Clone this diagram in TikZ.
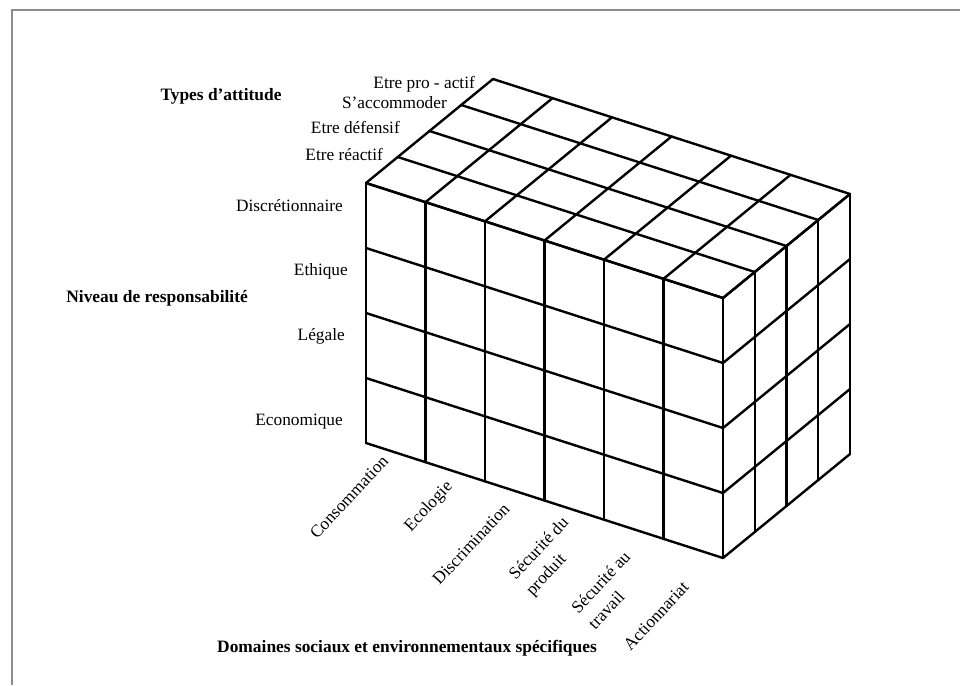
\documentclass[tikz,border=0pt]{standalone}
\usepackage{fontspec}
\setmainfont{Liberation Serif}
\begin{document}
\begin{tikzpicture}[x=1pt,y=-1pt,
  grid/.style={line width=2.4pt, black, line cap=round},
  lab/.style={font=\fontsize{17.3}{22}\selectfont, inner sep=0pt, text height=11.5pt, text depth=3.5pt},
  blab/.style={lab, font=\fontsize{17.4}{22}\selectfont\bfseries},
  dom/.style={font=\fontsize{17.3}{23}\selectfont, inner sep=0pt, rotate=47, align=left}]
\useasboundingbox (0,0) rectangle (960,685);
\draw[line width=2pt, black!45] (12,685) -- (12,10.5) -- (960,10.5);
% front face
\foreach \i in {0,...,6}
  \draw[grid] ({366+\i*59.5},{183+\i*19.1667}) -- ++(0,260);
\foreach \j in {0,...,4}
  \draw[grid] (366,{183+\j*65}) -- ++(357,115);
% top face
\foreach \i in {0,...,6}
  \draw[grid] ({366+\i*59.5},{183+\i*19.1667}) -- ++(127,-104);
\foreach \k in {0,...,4}
  \draw[grid] ({366+\k*31.75},{183-\k*26}) -- ++(357,115);
% right face
\foreach \k in {0,...,4}
  \draw[grid] ({723+\k*31.75},{298-\k*26}) -- ++(0,260);
\foreach \j in {0,...,4}
  \draw[grid] (723,{298+\j*65}) -- ++(127,-104);
% attitude labels
\node[blab] (types) at (221,96) {Types d’attitude};
\node[lab, anchor=east] (pro) at (475,84) {Etre pro - actif};
\node[lab, anchor=east] (acc) at (447,104) {S’accommoder};
\node[lab, anchor=east] (def) at (400,129) {Etre défensif};
\node[lab, anchor=east] (rea) at (383,156) {Etre réactif};
% responsibility labels
\node[lab, anchor=east] (disc) at (343,207) {Discrétionnaire};
\node[lab, anchor=east] (eth) at (348,271) {Ethique};
\node[lab, anchor=east] (leg) at (345,336) {Légale};
\node[lab, anchor=east] (eco) at (343,421) {Economique};
\node[blab, anchor=east] (niv) at (248,298) {Niveau de responsabilité};
% domain labels
\node[dom] (cons) at (349,497) {Consommation};
\node[dom] (ecol) at (429,507) {Ecologie};
\node[dom] (discr) at (471,544) {Discrimination};
\node[dom] (secp) at (548,557) {Sécurité du\\produit};
\node[dom] (secw) at (609,590) {Sécurité au\\travail};
\node[dom] (act) at (656,616) {Actionnariat};
\node[blab] (domt) at (407,648) {Domaines sociaux et environnementaux spécifiques};
\end{tikzpicture}
\end{document}
